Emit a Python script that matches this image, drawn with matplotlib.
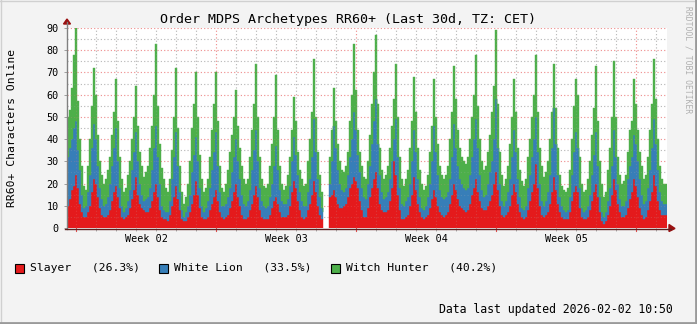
import numpy as np
import matplotlib
matplotlib.use("Agg")
import matplotlib.pyplot as plt
from matplotlib.patches import Rectangle, Polygon
from matplotlib.lines import Line2D

nan = float("nan")

# One row per day slot (20 px), 10 samples of 2.4 h each; first sample ~Sun 2026-01-04 13:00 CET
slayer = [
    [10, 13, 17, 19, 24, 18, 11, 7, 5, 5],
    [7, 10, 16, 22, 20, 14, 9, 6, 5, 5],
    [6, 8, 12, 16, 19, 14, 9, 5, 4, 5],
    [6, 9, 13, 17, 23, 15, 11, 9, 8, 7],
    [7, 9, 12, 16, 20, 14, 8, 5, 4, 4],
    [3, 6, 10, 14, 19, 13, 8, 4, 3, 3],
    [5, 7, 11, 15, 21, 15, 9, 5, 4, 4],
    [5, 8, 11, 14, 17, 12, 7, 5, 4, 5],
    [6, 9, 12, 16, 20, 14, 10, 6, 4, 4],
    [5, 8, 11, 15, 19, 14, 8, 5, 4, 4],
    [4, 6, 9, 12, 14, 11, 7, 5, 5, 5],
    [6, 10, 16, 21, 18, 12, 8, 5, 4, 5],
    [8, 11, 15, 21, 16, 10, 6, 4, 4, nan],
    [nan, 14, 15, 17, 14, 11, 9, 9, 10, 11],
    [14, 18, 20, 23, 21, 18, 12, 8, 5, 5],
    [9, 14, 18, 22, 25, 18, 11, 8, 7, 7],
    [8, 12, 18, 30, 24, 15, 8, 4, 4, 5],
    [6, 10, 15, 23, 17, 11, 7, 5, 4, 5],
    [6, 9, 13, 17, 14, 10, 7, 6, 5, 6],
    [7, 11, 15, 20, 17, 13, 10, 9, 8, 7],
    [8, 11, 15, 18, 22, 16, 12, 9, 8, 8],
    [10, 12, 15, 20, 25, 17, 10, 6, 5, 6],
    [7, 10, 15, 20, 16, 11, 7, 5, 4, 5],
    [8, 12, 16, 20, 29, 18, 10, 6, 5, 6],
    [7, 11, 16, 23, 17, 11, 7, 5, 4, 4],
    [4, 7, 12, 16, 19, 16, 9, 5, 4, 4],
    [5, 8, 12, 16, 20, 14, 7, 3, 2, 3],
    [6, 10, 15, 22, 17, 11, 7, 5, 5, 6],
    [9, 13, 16, 22, 19, 14, 9, 6, 4, 5],
    [8, 12, 16, 24, 19, 12, 8, 6, 6, 6],
]

white_lion = [
    [22, 23, 23, 26, 24, 17, 15, 8, 4, 5],
    [9, 14, 20, 25, 20, 14, 9, 7, 5, 6],
    [8, 12, 16, 20, 26, 16, 9, 5, 3, 4],
    [6, 8, 13, 17, 20, 15, 9, 6, 4, 6],
    [7, 9, 14, 20, 26, 18, 12, 5, 4, 3],
    [4, 6, 12, 18, 24, 15, 8, 4, 2, 4],
    [5, 8, 14, 18, 20, 15, 9, 5, 3, 5],
    [7, 10, 15, 20, 26, 16, 9, 5, 6, 6],
    [8, 9, 13, 16, 20, 16, 12, 9, 7, 6],
    [7, 9, 15, 20, 25, 16, 10, 7, 6, 5],
    [6, 8, 11, 16, 23, 15, 10, 7, 6, 6],
    [7, 9, 14, 20, 15, 12, 8, 7, 6, 5],
    [8, 11, 17, 28, 18, 12, 8, 5, 3, nan],
    [nan, 6, 15, 29, 22, 15, 11, 8, 6, 7],
    [10, 14, 20, 29, 23, 15, 13, 10, 9, 8],
    [11, 14, 20, 26, 33, 20, 13, 8, 6, 7],
    [8, 10, 12, 10, 25, 17, 10, 7, 6, 7],
    [8, 10, 15, 21, 17, 11, 7, 4, 4, 5],
    [8, 11, 17, 29, 20, 14, 10, 8, 8, 8],
    [9, 11, 17, 27, 19, 15, 12, 11, 10, 10],
    [10, 13, 17, 22, 27, 20, 12, 8, 6, 7],
    [10, 13, 15, 20, 33, 19, 10, 6, 5, 6],
    [9, 12, 17, 24, 18, 11, 7, 4, 4, 5],
    [10, 12, 16, 20, 21, 16, 10, 6, 5, 6],
    [9, 13, 20, 31, 21, 13, 7, 5, 4, 3],
    [4, 7, 12, 18, 24, 20, 9, 4, 3, 4],
    [5, 7, 12, 17, 23, 14, 7, 4, 3, 4],
    [6, 8, 13, 22, 15, 9, 6, 5, 5, 6],
    [13, 15, 16, 20, 19, 16, 13, 9, 7, 7],
    [10, 14, 20, 25, 19, 14, 8, 6, 5, 5],
]

witch_hunter = [
    [18, 17, 23, 33, 42, 22, 14, 13, 10, 7],
    [12, 16, 19, 25, 20, 14, 12, 11, 10, 11],
    [12, 12, 14, 16, 22, 18, 14, 12, 9, 9],
    [12, 13, 14, 16, 21, 16, 14, 13, 11, 12],
    [14, 18, 20, 24, 37, 23, 18, 17, 14, 11],
    [9, 10, 13, 18, 29, 17, 12, 8, 6, 7],
    [10, 15, 20, 23, 29, 20, 15, 12, 9, 9],
    [10, 14, 18, 22, 27, 20, 12, 8, 6, 9],
    [12, 16, 17, 18, 22, 16, 14, 13, 11, 10],
    [10, 15, 18, 21, 30, 20, 14, 10, 9, 9],
    [10, 14, 18, 22, 32, 18, 11, 8, 6, 8],
    [11, 13, 14, 18, 15, 10, 10, 10, 9, 10],
    [14, 18, 20, 27, 16, 12, 10, 7, 4, nan],
    [nan, 12, 14, 17, 12, 12, 10, 9, 9, 10],
    [10, 16, 20, 31, 18, 11, 9, 10, 9, 9],
    [10, 14, 18, 22, 29, 18, 12, 10, 9, 10],
    [12, 14, 16, 18, 25, 18, 14, 11, 9, 10],
    [12, 16, 18, 24, 18, 14, 12, 11, 9, 9],
    [10, 14, 16, 21, 16, 14, 11, 10, 9, 10],
    [12, 18, 20, 26, 22, 16, 14, 12, 12, 12],
    [14, 16, 18, 20, 29, 19, 16, 13, 12, 13],
    [14, 17, 22, 24, 31, 20, 14, 12, 9, 10],
    [12, 16, 18, 23, 18, 14, 12, 12, 11, 12],
    [14, 16, 18, 20, 28, 18, 16, 16, 13, 13],
    [14, 16, 16, 20, 16, 12, 10, 9, 9, 9],
    [10, 12, 16, 21, 24, 24, 14, 11, 9, 9],
    [12, 15, 18, 21, 30, 20, 16, 13, 9, 9],
    [14, 18, 22, 31, 18, 12, 11, 10, 11, 12],
    [12, 16, 16, 25, 18, 14, 12, 13, 11, 12],
    [14, 18, 20, 27, 20, 14, 12, 10, 9, 9],
]

series_names = ["Slayer", "White Lion", "Witch Hunter"]
series_share = ["26.3%", "33.5%", "40.2%"]
series_colors = ["#E41A1C", "#377EB8", "#4DAF4A"]
week_labels = ["Week 02", "Week 03", "Week 04", "Week 05"]
y_ticks = [0, 10, 20, 30, 40, 50, 60, 70, 80, 90]

title = "Order MDPS Archetypes RR60+ (Last 30d, TZ: CET)"
y_label = "RR60+ Characters Online"
footer = "Data last updated 2026-02-02 10:50"
watermark = "RRDTOOL / TOBI OETIKER"

MONO = "DejaVu Sans Mono"
W, H = 697, 324
SAMPLE_DAYS = 0.1          # 2.4 h per sample
FIRST_WEEK = 0.45          # Monday 00:00 offset from graph start (days)
SPAN = 30.0

def fx(px):
    return px / W

def fy(py):
    return 1 - py / H

fig = plt.figure(figsize=(W / 100, H / 100), dpi=100)
fig.patch.set_facecolor("#F3F3F3")

L, R, T, B = 67, 667, 28, 228
ax = fig.add_axes([fx(L), fy(B), (R - L) / W, (B - T) / H])
ax.set_facecolor("white")

s = np.array(slayer, float).ravel()
w = np.array(white_lion, float).ravel()
h = np.array(witch_hunter, float).ravel()
n = len(s)
t = np.arange(n + 1) * SAMPLE_DAYS

def ext(a):
    return np.append(a, a[-1])

lvl0 = np.zeros(n + 1)
lvl1 = ext(s)
lvl2 = lvl1 + ext(w)
lvl3 = lvl2 + ext(h)
for lo, hi, c in zip([lvl0, lvl1, lvl2], [lvl1, lvl2, lvl3], series_colors):
    ax.fill_between(t, lo, hi, step="post", facecolor=c, edgecolor=c, linewidth=0.3,
                    antialiased=True, zorder=2)

ax.set_xlim(0, SPAN)
ax.set_ylim(0, 90)

# grid: clear behind data, faint on top (rrdtool style)
day_pos = [FIRST_WEEK + k for k in range(30)]
week_pos = [FIRST_WEEK + 7 * k for k in range(5)]
for z, a in [(1, 0.9), (3, 0.22)]:
    for d in day_pos:
        if d not in week_pos:
            ax.axvline(d, color="#B4B4B4", lw=0.8, ls=(0, (1, 2)), alpha=a, zorder=z)
    for d in week_pos:
        ax.axvline(d, color="#EE8888", lw=0.8, ls=(0, (1, 2)), alpha=a, zorder=z)
    for yv in np.arange(5, 90, 10):
        ax.axhline(yv, color="#B4B4B4", lw=0.8, ls=(0, (1, 2)), alpha=a, zorder=z)
    for yv in y_ticks[1:]:
        ax.axhline(yv, color="#EE8888", lw=0.8, ls=(0, (1, 2)), alpha=a, zorder=z)

for sp in ax.spines.values():
    sp.set_visible(False)

ax.set_yticks(y_ticks)
ax.set_yticklabels([str(v) for v in y_ticks], fontfamily=MONO, fontsize=7.3)
ax.tick_params(axis="y", length=2, width=0.6, color="#909090", pad=4)
ax.set_xticks([p + 3.5 for p in week_pos[:4]])
ax.set_xticklabels(week_labels, fontfamily=MONO, fontsize=7.3)
ax.tick_params(axis="x", length=0, pad=4)
ax.set_xticks(day_pos, minor=True)
ax.tick_params(axis="x", which="minor", length=2, width=0.6, color="#A0A0A0", direction="out")
for d in week_pos:
    ax.plot([d, d], [0, -1.2], color="#E05050", lw=0.8, clip_on=False, zorder=4)

# axes lines with arrows
fig.add_artist(Line2D([fx(L), fx(L)], [fy(B + 1), fy(22)], color="#808080", lw=1.0))
fig.add_artist(Line2D([fx(L - 2), fx(671)], [fy(B + 0.5), fy(B + 0.5)], color="#5A2020", lw=1.0))
fig.add_artist(Polygon([[fx(L - 3.5), fy(24)], [fx(L + 3.5), fy(24)], [fx(L), fy(19)]],
                       closed=True, color="#9A1010", transform=fig.transFigure))
fig.add_artist(Polygon([[fx(669), fy(B - 3.5)], [fx(669), fy(B + 3.5)], [fx(675), fy(B + 0.5)]],
                       closed=True, color="#9A1010", transform=fig.transFigure))

# texts
fig.text(fx(348), fy(19), title, ha="center", va="center", fontsize=9.6, family=MONO)
fig.text(fx(12), fy(128), y_label, ha="center", va="center", rotation=90, fontsize=8.2, family=MONO)
fig.text(fx(673), fy(310), footer, ha="right", va="center", fontsize=8.3, family=MONO)
fig.text(fx(688), fy(60), watermark, ha="center", va="center", rotation=-90, fontsize=5.8,
         family=MONO, color="#B0B0B0")

# legend
box_x = [15, 159, 331]
for bx, name, share, c in zip(box_x, series_names, series_share, series_colors):
    fig.add_artist(Rectangle((fx(bx), fy(272.5)), 9 / W, 9 / H, facecolor=c,
                             edgecolor="black", lw=0.8, transform=fig.transFigure))
    fig.text(fx(bx + 15), fy(268), f"{name}   ({share})", ha="left", va="center",
             fontsize=8.2, family=MONO)

# frame
fig.add_artist(Line2D([0, 1], [fy(0.5), fy(0.5)], color="#D0D0D0", lw=1))
fig.add_artist(Line2D([fx(0.5), fx(0.5)], [0, 1], color="#D0D0D0", lw=1))
fig.add_artist(Line2D([0, 1], [fy(323), fy(323)], color="#9A9A9A", lw=2))
fig.add_artist(Line2D([fx(696), fx(696)], [0, 1], color="#9A9A9A", lw=2))

fig.savefig("out.png", dpi=100, facecolor=fig.get_facecolor())
